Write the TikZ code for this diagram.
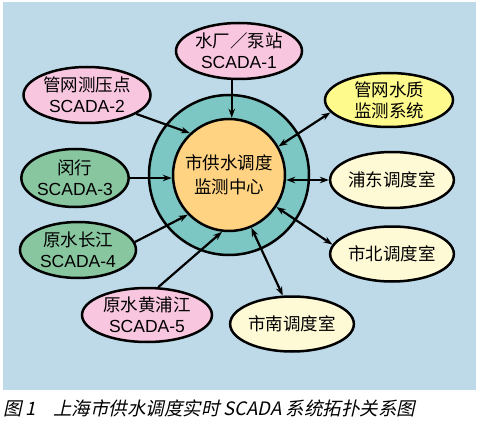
\documentclass[tikz,border=0pt]{standalone}
\usepackage{fontspec}
\setmainfont{Liberation Sans}
\newfontfamily\cjk{Noto Sans CJK SC}
\newfontfamily\capfont{Noto Sans CJK SC}[FakeSlant=0.22]
\usetikzlibrary{shapes.geometric,arrows.meta}
\definecolor{bgc}{RGB}{190,218,232}
\definecolor{ringc}{RGB}{124,198,196}
\definecolor{orangec}{RGB}{255,211,130}
\definecolor{pinkc}{RGB}{249,198,224}
\definecolor{greenc}{RGB}{136,198,160}
\definecolor{yellowc}{RGB}{255,250,140}
\definecolor{creamc}{RGB}{255,250,214}
\tikzset{
  ell/.style={ellipse, draw=black, line width=2.5pt, inner sep=0pt, align=center,
    font=\fontsize{17.5}{21}\selectfont},
  ring/.style={circle, draw=black, line width=2.5pt, inner sep=0pt},
  conn/.style={line width=2.2pt, -{Stealth[length=9pt,width=6.5pt]}},
  biconn/.style={line width=2.2pt, {Stealth[length=9pt,width=6.5pt]}-{Stealth[length=9pt,width=6.5pt]}}
}
\begin{document}
\begin{tikzpicture}[x=1pt,y=-1pt]
\useasboundingbox (0,0) rectangle (480,436);
\fill[bgc] (3,2) rectangle (476,390);
% central circles
\node[ring, fill=ringc, minimum size=160pt] (outer) at (229,175) {};
\node[ring, fill=orangec, minimum size=112pt, align=center,
  font=\cjk\fontsize{17.5}{24}\selectfont] (inner) at (229,175) {市供水调度\\监测中心};
% left nodes
\node[ell, fill=pinkc, minimum width=126pt, minimum height=56pt] (n1) at (239,51)
  {{\cjk 水厂／泵站}\\SCADA-1};
\node[ell, fill=pinkc, minimum width=127pt, minimum height=56pt] (n2) at (87,95)
  {{\cjk 管网测压点}\\SCADA-2};
\node[ell, fill=greenc, minimum width=94pt, minimum height=58pt] (n3) at (75,178)
  {{\cjk 闵行}\\SCADA-3};
\node[ell, fill=greenc, minimum width=116pt, minimum height=56pt] (n4) at (78,250)
  {{\cjk 原水长江}\\SCADA-4};
\node[ell, fill=pinkc, minimum width=130pt, minimum height=54pt] (n5) at (147,315)
  {{\cjk 原水黄浦江}\\SCADA-5};
% right nodes
\node[ell, fill=yellowc, minimum width=128pt, minimum height=54pt] (n6) at (389,100)
  {{\cjk 管网水质}\\{\cjk 监测系统}};
\node[ell, fill=creamc, minimum width=120pt, minimum height=56pt] (n7) at (392,180)
  {\cjk 浦东调度室};
\node[ell, fill=creamc, minimum width=120pt, minimum height=55pt] (n8) at (392,254)
  {\cjk 市北调度室};
\node[ell, fill=creamc, minimum width=120pt, minimum height=55pt] (n9) at (292,324)
  {\cjk 市南调度室};
% connectors
\draw[conn] (n1.256) -- (n1.256 |- inner.north);
\draw[conn] (n2.-21) -- (inner.133);
\draw[conn] (n3.east) -- (n3.east -| inner.west);
\draw[conn] (n4.8) -- (inner.224);
\draw[conn] (n5.68) -- (inner.263);
\draw[biconn] (n6.192) -- (inner.30);
\draw[biconn] (n7.west) -- (n7.west -| inner.east);
\draw[biconn] (n8.171) -- (inner.-34);
\draw[biconn] (n9.108) -- (inner.-67);
% caption
\node[anchor=west, inner sep=0pt, font=\capfont\fontsize{18.5}{20}\selectfont] (cap) at (3,408)
  {图 1\hspace{17pt}上海市供水调度实时 SCADA 系统拓扑关系图};
\end{tikzpicture}
\end{document}
